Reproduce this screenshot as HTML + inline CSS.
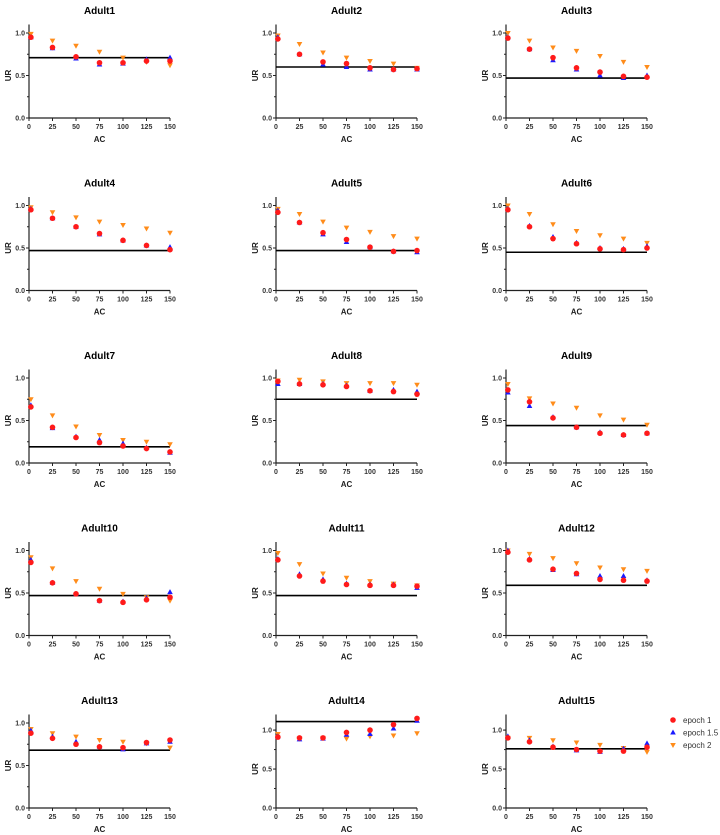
<!DOCTYPE html>
<html><head><meta charset="utf-8"><style>
html,body{margin:0;padding:0;background:#fff;}
svg{display:block;font-family:"Liberation Sans",Arial,sans-serif;}
</style></head><body>
<svg id="chart" width="720" height="835" viewBox="0 0 720 835" xmlns="http://www.w3.org/2000/svg"></svg>
<script>
const xValues = [2,25,50,75,100,125,150];
const xTicks = [0,25,50,75,100,125,150];
const panelNames = ["Adult1","Adult2","Adult3","Adult4","Adult5","Adult6","Adult7","Adult8","Adult9","Adult10","Adult11","Adult12","Adult13","Adult14","Adult15"];
const epoch1 = [
[0.95,0.83,0.72,0.65,0.65,0.67,0.67],
[0.93,0.75,0.66,0.64,0.59,0.57,0.58],
[0.94,0.81,0.71,0.59,0.54,0.49,0.48],
[0.95,0.85,0.75,0.67,0.59,0.53,0.48],
[0.92,0.80,0.68,0.60,0.51,0.46,0.47],
[0.95,0.75,0.61,0.55,0.49,0.48,0.50],
[0.66,0.42,0.30,0.24,0.20,0.17,0.13],
[0.96,0.93,0.92,0.90,0.85,0.84,0.81],
[0.86,0.72,0.53,0.42,0.35,0.33,0.35],
[0.86,0.62,0.49,0.41,0.39,0.42,0.45],
[0.89,0.70,0.64,0.60,0.59,0.59,0.58],
[0.98,0.89,0.78,0.73,0.66,0.65,0.64],
[0.88,0.82,0.75,0.72,0.71,0.77,0.80],
[0.91,0.90,0.90,0.97,1.00,1.07,1.15],
[0.90,0.85,0.78,0.75,0.73,0.73,0.78]];
const epoch15 = [
[0.95,0.82,0.70,0.63,0.64,0.69,0.71],
[0.95,0.75,0.63,0.60,0.57,0.57,0.57],
[0.95,0.81,0.68,0.57,0.50,0.47,0.50],
[0.96,0.85,0.75,0.66,0.59,0.53,0.51],
[0.94,0.80,0.66,0.57,0.51,0.46,0.45],
[0.96,0.76,0.63,0.56,0.50,0.49,0.52],
[0.68,0.41,0.31,0.27,0.23,0.18,0.12],
[0.93,0.93,0.93,0.91,0.85,0.86,0.84],
[0.83,0.67,0.54,0.42,0.36,0.33,0.35],
[0.89,0.62,0.49,0.41,0.40,0.44,0.51],
[0.90,0.72,0.66,0.61,0.60,0.60,0.56],
[1.00,0.90,0.77,0.72,0.70,0.70,0.65],
[0.91,0.84,0.78,0.72,0.69,0.76,0.78],
[0.92,0.88,0.89,0.94,0.95,1.02,1.12],
[0.92,0.87,0.79,0.74,0.72,0.76,0.83]];
const epoch2 = [
[0.99,0.91,0.85,0.78,0.71,0.66,0.62],
[0.97,0.87,0.77,0.71,0.67,0.64,0.59],
[1.00,0.91,0.83,0.79,0.73,0.66,0.60],
[0.98,0.92,0.86,0.81,0.77,0.73,0.68],
[0.96,0.90,0.81,0.74,0.69,0.64,0.61],
[1.00,0.90,0.78,0.70,0.65,0.61,0.56],
[0.75,0.56,0.43,0.33,0.27,0.25,0.22],
[0.97,0.98,0.96,0.94,0.94,0.94,0.92],
[0.93,0.76,0.70,0.65,0.56,0.51,0.45],
[0.92,0.79,0.64,0.55,0.49,0.45,0.41],
[0.97,0.84,0.73,0.68,0.64,0.61,0.59],
[1.00,0.96,0.91,0.85,0.80,0.78,0.76],
[0.93,0.88,0.84,0.80,0.78,0.76,0.71],
[0.95,0.89,0.90,0.89,0.92,0.93,0.96],
[0.90,0.90,0.87,0.84,0.81,0.77,0.72]];
const refLine = [0.71,0.60,0.47,0.47,0.47,0.45,0.19,0.75,0.44,0.47,0.47,0.59,0.68,1.11,0.76];
const yMaxes = [1.1,1.1,1.1,1.1,1.1,1.1,1.1,1.1,1.1,1.1,1.1,1.1,1.1,1.2,1.2];
const yTicks = [0,0.5,1.0];
const yTickLabels = ["0.0","0.5","1.0"];
const legendLabels = ["epoch 1","epoch 1.5","epoch 2"];

const NS="http://www.w3.org/2000/svg";
const svg=document.getElementById('chart');
const colX=[29,276,506], W=141, H=93.5;
function mk(tag,attrs,parent){const e=document.createElementNS(NS,tag);for(const k in attrs)e.setAttribute(k,attrs[k]);(parent||svg).appendChild(e);return e;}
function circle(g,x,y){const c=mk('circle',{cx:x,cy:y,r:2.8,fill:'#ff1a1a'},g);

return c;}
function triUp(g,x,y){const p=mk('polygon',{points:`${x},${y-3} ${x-2.8},${y+2} ${x+2.8},${y+2}`,fill:'#1a1aff'},g);

return p;}
function triDown(g,x,y){const p=mk('polygon',{points:`${x-2.8},${y-2} ${x+2.8},${y-2} ${x},${y+3}`,fill:'#ff8c1a'},g);

return p;}

panelNames.forEach((name,i)=>{
  const col=i%3,row=Math.floor(i/3);
  const x0=colX[col], base=118+172.5*row, top=base-H, ymax=yMaxes[i];
  const xs=v=>x0+v/150*W, ys=v=>base-v/ymax*H;
  const g=mk('g',{});
  
  
  const t=mk('text',{x:x0+W/2,y:base-104,'text-anchor':'middle','font-size':'10','font-weight':'bold',fill:'#000'},g);t.textContent=name;
  
  
  // axes
  const ya=mk('line',{x1:x0,y1:top,x2:x0,y2:base+0.5,stroke:'#222','stroke-width':1.2},g);
  
  
  const xa=mk('line',{x1:x0-0.5,y1:base,x2:x0+W,y2:base,stroke:'#222','stroke-width':1.2},g);
  
  
  for(let v=0.25;v<ymax;v+=0.25){mk('line',{x1:x0-2,y1:ys(v),x2:x0,y2:ys(v),stroke:'#222','stroke-width':1},g);}
  yTicks.forEach((v,k)=>{mk('line',{x1:x0-3,y1:ys(v),x2:x0,y2:ys(v),stroke:'#222','stroke-width':1},g);
    const l=mk('text',{x:x0-4,y:ys(v)+2.5,'text-anchor':'end','font-size':'7','font-weight':'bold',fill:'#333'},g);l.textContent=yTickLabels[k];
    
    });
  xTicks.forEach(v=>{mk('line',{x1:xs(v),y1:base,x2:xs(v),y2:base+3,stroke:'#222','stroke-width':1},g);
    const l=mk('text',{x:xs(v),y:base+11,'text-anchor':'middle','font-size':'7','font-weight':'bold',fill:'#333'},g);l.textContent=v;
    
    });
  const xl=mk('text',{x:x0+W/2,y:base+24,'text-anchor':'middle','font-size':'8','font-weight':'bold',fill:'#222'},g);xl.textContent='AC';
  
  
  const yl=mk('text',{x:0,y:0,'text-anchor':'middle','font-size':'8','font-weight':'bold',fill:'#222',transform:`translate(${x0-18},${ys(0.5)}) rotate(-90)`},g);yl.textContent='UR';
  
  
  const rl=mk('line',{x1:x0,y1:ys(refLine[i]),x2:xs(150),y2:ys(refLine[i]),stroke:'#000','stroke-width':1.6},g);
  
  
  xValues.forEach((v,k)=>{triDown(g,xs(v),ys(epoch2[i][k]));});
  xValues.forEach((v,k)=>{triUp(g,xs(v),ys(epoch15[i][k]));});
  xValues.forEach((v,k)=>{circle(g,xs(v),ys(epoch1[i][k]));});
});
// legend
const lg=mk('g',{});


const ly=[720,732.5,745];
circle(lg,673,ly[0]);triUp(lg,673,ly[1]);triDown(lg,673,ly[2]);
legendLabels.forEach((s,k)=>{const t=mk('text',{x:683,y:ly[k]+3,'font-size':'8',fill:'#333'},lg);t.textContent=s;
  
  });
</script>
</body></html>
